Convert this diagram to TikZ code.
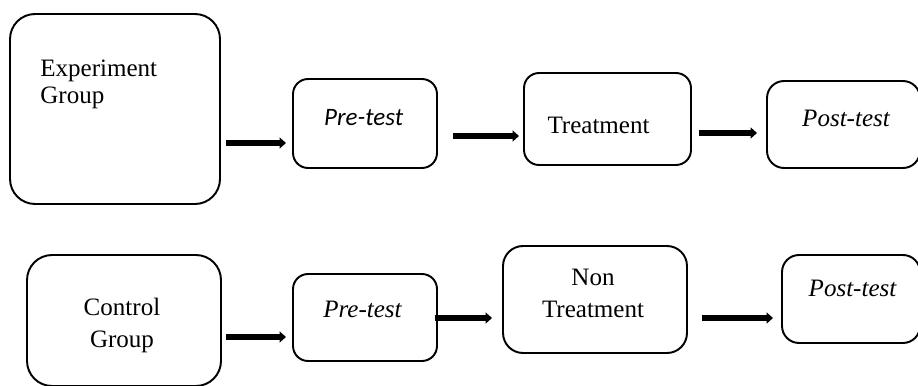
\documentclass[tikz,border=0pt]{standalone}
\usepackage{fontspec}
\setmainfont{Liberation Serif}
\newfontfamily\calib{Carlito}
\usetikzlibrary{arrows.meta}
\tikzset{
  box/.style={draw,line width=1.1pt,inner sep=0pt,outer sep=0pt},
  txt/.style={inner sep=0pt,font=\fontsize{14.25}{18.5}\selectfont},
  flow/.style={line width=3.4pt,-{Triangle[length=0.13cm,width=0.22cm]}}
}
\begin{document}
\begin{tikzpicture}[x=0.02cm,y=-0.02cm]
    \useasboundingbox (0,0) rectangle (918,385);
    % experiment row
    \node[box,rounded corners=0.5cm,minimum width=4.2cm,minimum height=3.8cm] (exp) at (115,109) {};
    \node[box,rounded corners=0.3cm,minimum width=2.88cm,minimum height=1.78cm] (pre1) at (365,123.5) {};
    \node[box,rounded corners=0.3cm,minimum width=3.34cm,minimum height=1.84cm] (treat) at (607.5,119) {};
    \node[box,rounded corners=0.34cm,minimum width=3.06cm,minimum height=1.74cm] (post1) at (843.5,124.5) {};
    \node[txt,anchor=north west,align=left,font=\fontsize{14.25}{15.5}\selectfont] (expt) at (40,59.5) {Experiment\\Group};
    \node[txt,anchor=base,font=\fontsize{14.25}{17}\selectfont\calib\itshape] (pre1t) at (363.7,125) {Pre-test};
    \node[txt,anchor=base] (treatt) at (598.5,133.3) {Treatment};
    \node[txt,anchor=base,font=\fontsize{14.25}{17}\selectfont\itshape] (post1t) at (846,126.7) {Post-test};
    % control row
    \node[box,rounded corners=0.5cm,minimum width=3.88cm,minimum height=2.62cm] (ctrl) at (124,320.5) {};
    \node[box,rounded corners=0.3cm,minimum width=2.88cm,minimum height=1.74cm] (pre2) at (365,317.5) {};
    \node[box,rounded corners=0.4cm,minimum width=3.68cm,minimum height=2.14cm] (nontr) at (595,299.5) {};
    \node[box,rounded corners=0.34cm,minimum width=2.76cm,minimum height=1.76cm] (post2) at (851,299) {};
    \node[txt,anchor=north,align=center] (ctrlt) at (122,297.5) {Control\\Group};
    \node[txt,anchor=base,font=\fontsize{14.25}{17}\selectfont\itshape] (pre2t) at (362.5,317.3) {Pre-test};
    \node[txt,anchor=north,align=center] (nontrt) at (593,268.3) {Non\\Treatment};
    \node[txt,anchor=base,font=\fontsize{14.25}{17}\selectfont\itshape] (post2t) at (852.5,296.7) {Post-test};
    % arrows
    \coordinate (r1) at (0,143);
    \coordinate (r2) at (0,136);
    \coordinate (r3) at (0,133);
    \coordinate (r4) at (0,337);
    \coordinate (r5) at (0,318);
    \draw[flow,shorten <=0.12cm,shorten >=0.14cm] (exp.east |- r1) -- (pre1.west |- r1);
    \draw[flow,shorten <=0.32cm,shorten >=0.1cm] (pre1.east |- r2) -- (treat.west |- r2);
    \draw[flow,shorten <=0.16cm,shorten >=0.2cm] (treat.east |- r3) -- (post1.west |- r3);
    \draw[flow,shorten <=0.1cm,shorten >=0.14cm] (ctrl.east |- r4) -- (pre2.west |- r4);
    \draw[flow,shorten <=-0.04cm,shorten >=0.22cm] (pre2.east |- r5) -- (nontr.west |- r5);
    \draw[flow,shorten <=0.3cm,shorten >=0.18cm] (nontr.east |- r5) -- (post2.west |- r5);
\end{tikzpicture}
\end{document}
